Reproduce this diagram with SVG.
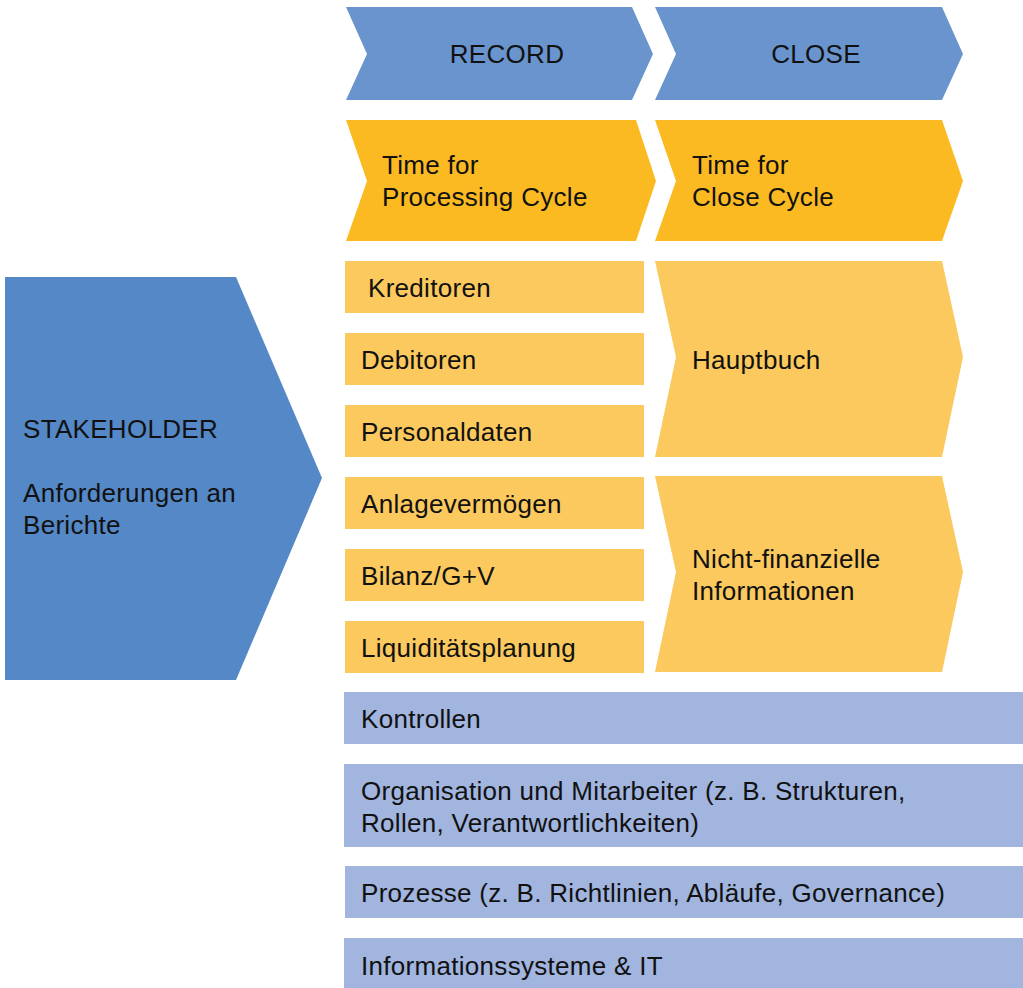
<svg xmlns="http://www.w3.org/2000/svg" width="1023" height="988" viewBox="0 0 1023 988">
<style>
text{font-family:"Liberation Sans",Arial,sans-serif;font-size:26px;letter-spacing:0.3px;fill:#111}
.hdr{fill:#6994CD}
.time{fill:#FBBA21}
.item{fill:#FBC95D}
.base{fill:#A1B5DF}
.stake{fill:#5588C6}
</style>
<rect width="1023" height="988" fill="#fff"/>
<g id="record"><polygon class="hdr" points="346,7 632,7 653,54 632,100 346,100 367,54"/><text x="507" y="63" text-anchor="middle">RECORD</text></g>
<g id="close"><polygon class="hdr" points="655,7 942,7 963,54 942,100 655,100 676,54"/><text x="816" y="63" text-anchor="middle">CLOSE</text></g>
<g id="time-processing"><polygon class="time" points="346,120 636,120 656,181 636,241 346,241 367,181"/><text x="382" y="174">Time for</text><text x="382" y="206">Processing Cycle</text></g>
<g id="time-close"><polygon class="time" points="655,120 942,120 963,181 942,241 655,241 676,181"/><text x="692" y="174">Time for</text><text x="692" y="206">Close Cycle</text></g>
<g id="stakeholder"><polygon class="stake" points="5,277 236,277 322,478 236,680 5,680"/><text x="23" y="438">STAKEHOLDER</text><text x="23" y="502">Anforderungen an</text><text x="23" y="534">Berichte</text></g>
<g id="kreditoren"><rect class="item" x="345" y="261" width="299" height="52"/><text x="368" y="297">Kreditoren</text></g>
<g id="debitoren"><rect class="item" x="345" y="333" width="299" height="52"/><text x="361" y="369">Debitoren</text></g>
<g id="personaldaten"><rect class="item" x="345" y="405" width="299" height="52"/><text x="361" y="441">Personaldaten</text></g>
<g id="anlagevermoegen"><rect class="item" x="345" y="477" width="299" height="52"/><text x="361" y="513">Anlagevermögen</text></g>
<g id="bilanz"><rect class="item" x="345" y="549" width="299" height="52"/><text x="361" y="585">Bilanz/G+V</text></g>
<g id="liquiditaet"><rect class="item" x="345" y="621" width="299" height="52"/><text x="361" y="657">Liquiditätsplanung</text></g>
<g id="hauptbuch"><polygon class="item" points="655,261 942,261 963,357 942,457 655,457 676,357"/><text x="692" y="369">Hauptbuch</text></g>
<g id="nichtfinanziell"><polygon class="item" points="655,476 942,476 963,572 942,672 655,672 676,572"/><text x="692" y="568">Nicht-finanzielle</text><text x="692" y="600">Informationen</text></g>
<g id="kontrollen"><rect class="base" x="344" y="692" width="679" height="52"/><text x="361" y="728">Kontrollen</text></g>
<g id="organisation"><rect class="base" x="344" y="764" width="679" height="83"/><text x="361" y="800">Organisation und Mitarbeiter (z. B. Strukturen,</text><text x="361" y="832">Rollen, Verantwortlichkeiten)</text></g>
<g id="prozesse"><rect class="base" x="345" y="866" width="678" height="52"/><text x="361" y="902">Prozesse (z. B. Richtlinien, Abläufe, Governance)</text></g>
<g id="informationssysteme"><rect class="base" x="344" y="938" width="679" height="50"/><text x="361" y="975">Informationssysteme &amp; IT</text></g>
<g id="connectors"/>
</svg>
